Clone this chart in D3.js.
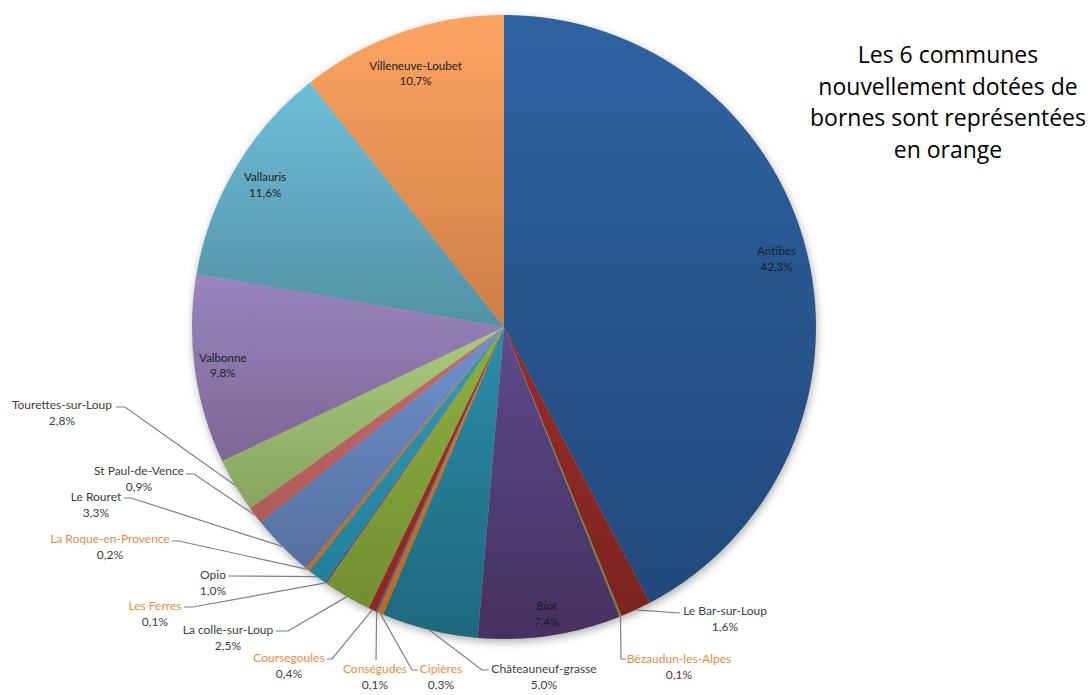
<!DOCTYPE html>
<html><head><meta charset="utf-8">
<script src="https://cdn.jsdelivr.net/npm/d3@7"></script>
<style>
html,body{margin:0;padding:0;background:#fff;}
svg{display:block;}
</style></head>
<body>
<svg id="chart" width="1090" height="695"></svg>
<script>
// ---- data ----
const communes = ["Antibes","Le Bar-sur-Loup","Bézaudun-les-Alpes","Biot","Châteauneuf-grasse","Cipières","Conségudes","Coursegoules","La colle-sur-Loup","Les Ferres","Opio","La Roque-en-Provence","Le Rouret","St Paul-de-Vence","Tourettes-sur-Loup","Valbonne","Vallauris","Villeneuve-Loubet"];
const shares = [42.3,1.6,0.1,7.4,5.0,0.3,0.1,0.4,2.5,0.1,1.0,0.2,3.3,0.9,2.8,9.8,11.6,10.7];
const newCommunes = ["Bézaudun-les-Alpes","Cipières","Conségudes","Coursegoules","Les Ferres","La Roque-en-Provence"];
const titleLines = ["Les 6 communes","nouvellement dotées de","bornes sont représentées","en orange"];

// ---- styles ----
const topColors = ["#2E63A1","#982C28","#7E9E3C","#5F4A8C","#2B8DA8","#DB7521","#3C6BAA","#A52E2A","#8DB142","#6A4F96","#2E9CBC","#DD7A22","#6F91CD","#C66B68","#AACB7B","#9A85BD","#6EBED9","#FDA462"];
const botColors = ["#21487A","#7C231F","#6A8530","#45305E","#1E687D","#C0661C","#335C94","#8E271F","#728E32","#5B4484","#237F98","#C66A1D","#55709F","#AE5B58","#88A45F","#7D6796","#5291A4","#CD7F47"];
const insideLabels = {"Antibes":0.9,"Biot":0.93,"Valbonne":0.91,"Vallauris":0.89,"Villeneuve-Loubet":0.86};
// outside label layout: text center x, first line y, leader elbow and end
const outLayout = {
 "Le Bar-sur-Loup":{x:725,y:611,elbow:null,end:[680,613]},
 "Bézaudun-les-Alpes":{x:679,y:659,elbow:[621,659],end:[626,659]},
 "Châteauneuf-grasse":{x:544,y:669,elbow:[482,670],end:[489,670]},
 "Cipières":{x:441,y:669,elbow:[412,670],end:[418,670]},
 "Conségudes":{x:375,y:669,elbow:null,end:[376,660]},
 "Coursegoules":{x:289,y:658,elbow:[332,659],end:[327,659]},
 "La colle-sur-Loup":{x:228,y:630,elbow:[288,631],end:[276,631]},
 "Les Ferres":{x:155,y:606,elbow:[193,607],end:[184,607]},
 "Opio":{x:213,y:575,elbow:null,end:[228,576]},
 "La Roque-en-Provence":{x:110,y:539,elbow:[179,541],end:[172,541]},
 "Le Rouret":{x:96,y:497,elbow:[131,498],end:[124,498]},
 "St Paul-de-Vence":{x:139,y:471,elbow:[194,474],end:[186,474]},
 "Tourettes-sur-Loup":{x:62,y:405,elbow:[125,407],end:[116,407]}
};

const data = communes.map((c,i)=>({name:c,value:shares[i],i}));
const svg = d3.select("#chart");
const cx = 504, cy = 327, R = 312;
const defs = svg.append("defs");

const f = defs.append("filter").attr("id","shadow").attr("x","-10%").attr("y","-10%").attr("width","120%").attr("height","120%");
f.append("feGaussianBlur").attr("stdDeviation",4);

data.forEach(d=>{
  const g = defs.append("linearGradient").attr("id","g"+d.i).attr("x1",0).attr("y1",0).attr("x2",0).attr("y2",1);
  g.append("stop").attr("offset","0%").attr("stop-color",topColors[d.i]);
  g.append("stop").attr("offset","100%").attr("stop-color",botColors[d.i]);
});

const pie = d3.pie().value(d=>d.value).sort(null);
const arcs = pie(data);
const arc = d3.arc().innerRadius(0).outerRadius(R);

const G = svg.append("g").attr("transform",`translate(${cx},${cy})`);
G.append("circle").attr("r",R).attr("cx",1).attr("cy",3).attr("fill","#9a9a9a").attr("filter","url(#shadow)").attr("opacity",0.8);
G.selectAll("path.slice").data(arcs).join("path").attr("class","slice")
  .attr("d",arc).attr("fill",d=>`url(#g${d.data.i})`);

const fmt = v => v.toFixed(1).replace(".",",")+"%";
const font = "Lato, 'Open Sans', sans-serif";

// inside labels
arcs.filter(a=>insideLabels[a.data.name]).forEach(a=>{
  const m = (a.startAngle+a.endAngle)/2, rr = R*insideLabels[a.data.name];
  const x = cx + rr*Math.sin(m), y = cy - rr*Math.cos(m);
  const t = svg.append("text").attr("x",x).attr("y",y-8).attr("text-anchor","middle")
    .attr("font-family",font).attr("font-size",11.6).attr("fill","#1c1c26");
  t.append("tspan").attr("x",x).attr("dy","0.35em").text(a.data.name);
  t.append("tspan").attr("x",x).attr("dy","15.5").text(fmt(a.data.value));
});

// outside labels with leaders
arcs.filter(a=>outLayout[a.data.name]).forEach(a=>{
  const L = outLayout[a.data.name];
  const m = (a.startAngle+a.endAngle)/2;
  const p = [cx + R*Math.sin(m), cy - R*Math.cos(m)];
  const pts = [p]; if(L.elbow) pts.push(L.elbow); pts.push(L.end);
  svg.append("path").attr("d",d3.line()(pts)).attr("fill","none").attr("stroke","#7f7f7f").attr("stroke-width",1.2);
  const isNew = newCommunes.includes(a.data.name);
  svg.append("text").attr("x",L.x).attr("y",L.y).attr("dy","0.35em").attr("text-anchor","middle")
    .attr("font-family",font).attr("font-size",12).attr("fill",isNew?"#EE8A3C":"#404040").text(a.data.name);
  svg.append("text").attr("x",L.x).attr("y",L.y+16).attr("dy","0.35em").attr("text-anchor","middle")
    .attr("font-family",font).attr("font-size",12).attr("fill","#404040").text(fmt(a.data.value));
});

// title
const tt = svg.append("text").attr("text-anchor","middle").attr("font-family","'Open Sans', sans-serif").attr("font-size",23).attr("fill","#000");
titleLines.forEach((s,k)=>{
  tt.append("tspan").attr("x",948).attr("y",63+k*31.5).text(s);
});
</script>
</body></html>
